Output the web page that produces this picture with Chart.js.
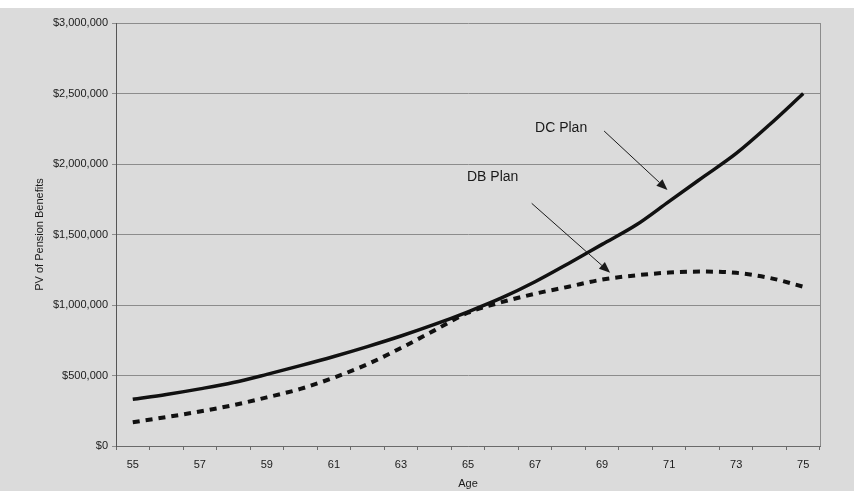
<!DOCTYPE html>
<html>
<head>
<meta charset="utf-8">
<script src="https://cdn.jsdelivr.net/npm/chart.js@4.4.1/dist/chart.umd.min.js"></script>
<style>
  html, body { margin: 0; padding: 0; background: #ffffff; }
  #wrap { width: 854px; height: 491px; position: relative; }
  canvas { display: block; }
</style>
</head>
<body>
<div id="wrap"><canvas id="c" width="854" height="491"></canvas></div>
<script>
// ---- data ----
const ages = [55,56,57,58,59,60,61,62,63,64,65,66,67,68,69,70,71,72,73,74,75];
const dcPlan = [331000,365000,405000,450000,508000,570000,635000,705000,780000,862000,952000,1050000,1165000,1295000,1430000,1565000,1735000,1905000,2075000,2280000,2500000];
const dbPlan = [168000,205000,245000,290000,345000,405000,485000,580000,695000,820000,945000,1020000,1080000,1130000,1180000,1210000,1230000,1237000,1228000,1192000,1130000];
const yTicks = [0,500000,1000000,1500000,2000000,2500000,3000000];

// annotations in data units (age, value)
const notes = [
  { text: 'DC Plan', at: [67.0, 2255000], from: [69.06, 2234000], to: [70.95, 1816000] },
  { text: 'DB Plan', at: [64.97, 1908000], from: [66.9, 1721000], to: [69.24, 1229000] }
];

const bgPlugin = {
  id: 'bg',
  beforeDraw(chart) {
    const ctx = chart.ctx;
    ctx.save();
    ctx.fillStyle = '#ffffff';
    ctx.fillRect(0, 0, chart.width, chart.height);
    ctx.fillStyle = '#dbdbdb';
    ctx.fillRect(0, 8, chart.width, chart.height - 8);
    ctx.restore();
  },
  afterDraw(chart) {
    const ctx = chart.ctx;
    const a = chart.chartArea;
    ctx.save();
    ctx.strokeStyle = '#8c8c8c';
    ctx.lineWidth = 1;
    ctx.beginPath();
    ctx.moveTo(Math.round(a.right) + 0.5, a.top);
    ctx.lineTo(Math.round(a.right) + 0.5, a.bottom);
    ctx.stroke();
    // annotations
    const xs = chart.scales.x, ys = chart.scales.y;
    const px = age => xs.getPixelForValue(ages.indexOf(Math.floor(age))) + (age - Math.floor(age)) * (xs.getPixelForValue(1) - xs.getPixelForValue(0));
    ctx.fillStyle = '#1a1a1a';
    ctx.strokeStyle = '#1a1a1a';
    ctx.font = '14px "Liberation Sans", Arial, sans-serif';
    ctx.textBaseline = 'middle';
    ctx.textAlign = 'left';
    notes.forEach(n => {
      ctx.fillText(n.text, px(n.at[0]), ys.getPixelForValue(n.at[1]));
      const x1 = px(n.from[0]), y1 = ys.getPixelForValue(n.from[1]);
      const x2 = px(n.to[0]), y2 = ys.getPixelForValue(n.to[1]);
      const ang = Math.atan2(y2 - y1, x2 - x1);
      const hl = 11, hw = 4.5;
      const bx = x2 - hl * Math.cos(ang), by = y2 - hl * Math.sin(ang);
      ctx.lineWidth = 1;
      ctx.beginPath();
      ctx.moveTo(x1, y1);
      ctx.lineTo(bx, by);
      ctx.stroke();
      ctx.beginPath();
      ctx.moveTo(x2, y2);
      ctx.lineTo(bx + hw * Math.sin(ang), by - hw * Math.cos(ang));
      ctx.lineTo(bx - hw * Math.sin(ang), by + hw * Math.cos(ang));
      ctx.closePath();
      ctx.fill();
    });
    ctx.restore();
  }
};

const font = { family: '"Liberation Sans", Arial, sans-serif', size: 11 };

new Chart(document.getElementById('c'), {
  type: 'line',
  data: {
    labels: ages.map(String),
    datasets: [
      { label: 'DC Plan', data: dcPlan, borderColor: '#111111', borderWidth: 3.5, pointRadius: 0, tension: 0.4, cubicInterpolationMode: 'monotone', fill: false },
      { label: 'DB Plan', data: dbPlan, borderColor: '#111111', borderWidth: 4, borderDash: [7, 6], pointRadius: 0, tension: 0.4, cubicInterpolationMode: 'monotone', fill: false }
    ]
  },
  options: {
    responsive: false,
    animation: false,
    events: [],
    layout: { padding: { left: 0, right: 34, top: 23, bottom: 0 } },
    plugins: { legend: { display: false }, tooltip: { enabled: false } },
    scales: {
      x: {
        type: 'category',
        offset: true,
        afterFit: s => { s.height = 45; },
        grid: { display: true, offset: true, drawOnChartArea: false, drawTicks: true, tickLength: 4, color: '#6a6a6a' },
        border: { display: true, color: '#6a6a6a', width: 1 },
        ticks: {
          autoSkip: false, maxRotation: 0, padding: 8, color: '#1a1a1a', font,
          callback: (v, i) => (i % 2 === 0 ? ages[i] : '')
        },
        title: { display: true, text: 'Age', color: '#1a1a1a', font, padding: { top: 2, bottom: 0 } }
      },
      y: {
        min: 0, max: 3000000,
        afterFit: s => { s.width = 116; },
        afterBuildTicks: s => { s.ticks = yTicks.map(v => ({ value: v })); },
        grid: { color: '#8c8c8c', lineWidth: 1, tickLength: 4 },
        border: { display: true, color: '#555555', width: 1 },
        ticks: {
          padding: 4, color: '#1a1a1a', font,
          callback: v => '$' + Number(v).toLocaleString('en-US')
        },
        title: { display: true, text: 'PV of Pension Benefits', color: '#1a1a1a', font, padding: { top: 33, bottom: 0 } }
      }
    }
  },
  plugins: [bgPlugin]
});
</script>
</body>
</html>
